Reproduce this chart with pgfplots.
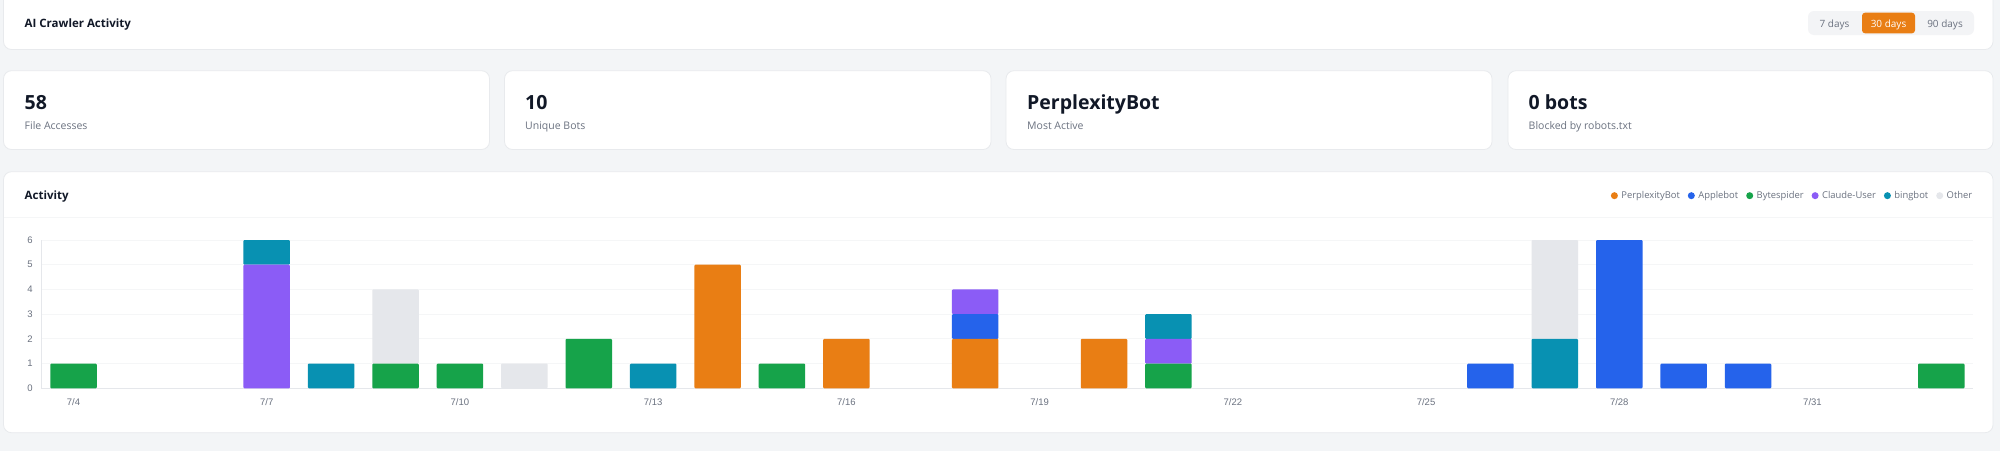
\documentclass[border=0pt]{standalone}
\usepackage{fontspec}
\setmainfont{Open Sans}
\newfontfamily\axisfont{Liberation Sans}
\usepackage{pgfplots}
\usepackage{pgfplotstable}
\pgfplotsset{compat=1.18}
\definecolor{cpage}{HTML}{F3F5F7}
\definecolor{cborder}{HTML}{E8EAED}
\definecolor{cdark}{HTML}{111827}
\definecolor{cgrey}{HTML}{6B7280}
\definecolor{cpill}{HTML}{F3F4F6}
\definecolor{cperp}{HTML}{E97E14}
\definecolor{capple}{HTML}{2563EB}
\definecolor{cbyte}{HTML}{16A34A}
\definecolor{cclaude}{HTML}{8B5CF6}
\definecolor{cbing}{HTML}{0891B2}
\definecolor{cother}{HTML}{E5E7EB}
\definecolor{cgrid}{HTML}{F5F6F7}
\pgfplotstableread{
x p a b c k o
0 0 0 1 0 0 0
1 0 0 0 0 0 0
2 0 0 0 0 0 0
3 0 0 0 5 1 0
4 0 0 0 0 1 0
5 0 0 1 0 0 3
6 0 0 1 0 0 0
7 0 0 0 0 0 1
8 0 0 2 0 0 0
9 0 0 0 0 1 0
10 5 0 0 0 0 0
11 0 0 1 0 0 0
12 2 0 0 0 0 0
13 0 0 0 0 0 0
14 2 1 0 1 0 0
15 0 0 0 0 0 0
16 2 0 0 0 0 0
17 0 0 1 1 1 0
18 0 0 0 0 0 0
19 0 0 0 0 0 0
20 0 0 0 0 0 0
21 0 0 0 0 0 0
22 0 1 0 0 0 0
23 0 0 0 0 2 4
24 0 6 0 0 0 0
25 0 1 0 0 0 0
26 0 1 0 0 0 0
27 0 0 0 0 0 0
28 0 0 0 0 0 0
29 0 0 1 0 0 0
}\datatable
\newcommand{\fs}[1]{\fontsize{#1}{#1}\selectfont}
\begin{document}
\begin{tikzpicture}[x=1pt,y=1pt]
\clip (0,0) rectangle (2000,-451);
\fill[cpage] (0,0) rectangle (2000,-451);
% cards
\tikzset{card/.style={fill=white,draw=cborder,line width=0.8pt,rounded corners=8pt}}
\path[card] (3.5,12) rectangle (1993,-49.5);
\path[card] (3.5,-70.7) rectangle (489.5,-149.5);
\path[card] (504.5,-70.7) rectangle (991,-149.5);
\path[card] (1006,-70.7) rectangle (1492,-149.5);
\path[card] (1508,-70.7) rectangle (1993,-149.5);
\path[card] (3.5,-171.7) rectangle (1993,-432.7);
\draw[cgrid,line width=1pt] (4,-217) -- (1992.5,-217);
% header
\node[anchor=base west,inner sep=0,text=cdark] at (24.5,-27.2) {\fs{11.5}\bfseries AI Crawler Activity};
\node[anchor=base west,inner sep=0,text=cdark] at (24.5,-199.5) {\fs{11.5}\bfseries Activity};
% range switch
\fill[cpill,rounded corners=6pt] (1808,-11) rectangle (1974,-35);
\fill[cperp,rounded corners=3pt] (1862,-12.7) rectangle (1915,-33.3);
\node[anchor=base,inner sep=0,text=cgrey] at (1834.5,-27) {\fs{10}7 days};
\node[anchor=base,inner sep=0,text=white] at (1888.5,-27) {\fs{10}30 days};
\node[anchor=base,inner sep=0,text=cgrey] at (1945,-27) {\fs{10}90 days};
% stat cards
\foreach \cx/\big/\small in {24.5/58/File Accesses,525/10/Unique Bots,1027/PerplexityBot/Most Active,1528.5/0 bots/Blocked by robots.txt}{
  \node[anchor=base west,inner sep=0,text=cdark] at (\cx,-109) {\fs{19.5}\bfseries \big};
  \node[anchor=base west,inner sep=0,text=cgrey] at (\cx,-129) {\fs{10.5}\small};
}
\begin{axis}[
  at={(41.3pt,-388.3pt)},anchor=south west,
  scale only axis,width=1932.2pt,height=148.3pt,
  ybar stacked,bar width=46.5pt,
  xmin=-0.5,xmax=29.5,ymin=0,ymax=6,
  axis lines=left,
  axis line style={-,draw=cother,line width=1pt},
  tick style={draw=none},
  ytick={0,1,2,3,4,5,6},
  xtick={0,3,6,9,12,15,18,21,24,27},
  xticklabels={7/4,7/7,7/10,7/13,7/16,7/19,7/22,7/25,7/28,7/31},
  /pgf/number format/assume math mode=true,
  ticklabel style={font=\axisfont\fs{9.5},text=cgrey},
  xticklabel style={yshift=-5pt},
  yticklabel style={xshift=-3pt},
  ymajorgrids,
  grid style={draw=cgrid,line width=1pt},
  every axis plot/.append style={draw=none,/tikz/rounded corners=1pt},
  legend columns=6,
  legend style={at={(1.0005,1.299)},anchor=east,draw=none,fill=none,inner sep=0pt,
    font=\fs{9.4},text=cgrey,
    /tikz/every even column/.append style={column sep=6pt},
    /tikz/every odd column/.append style={column sep=1.5pt}},
  legend image code/.code={\path[#1,draw=none] (0pt,0pt) circle (3.5pt);},
]
\addplot[fill=cperp] table[x=x,y=p] {\datatable};
\addlegendentry{PerplexityBot}
\addplot[fill=capple] table[x=x,y=a] {\datatable};
\addlegendentry{Applebot}
\addplot[fill=cbyte] table[x=x,y=b] {\datatable};
\addlegendentry{Bytespider}
\addplot[fill=cclaude] table[x=x,y=c] {\datatable};
\addlegendentry{Claude-User}
\addplot[fill=cbing] table[x=x,y=k] {\datatable};
\addlegendentry{bingbot}
\addplot[fill=cother] table[x=x,y=o] {\datatable};
\addlegendentry{Other}
\end{axis}
\end{tikzpicture}
\end{document}
